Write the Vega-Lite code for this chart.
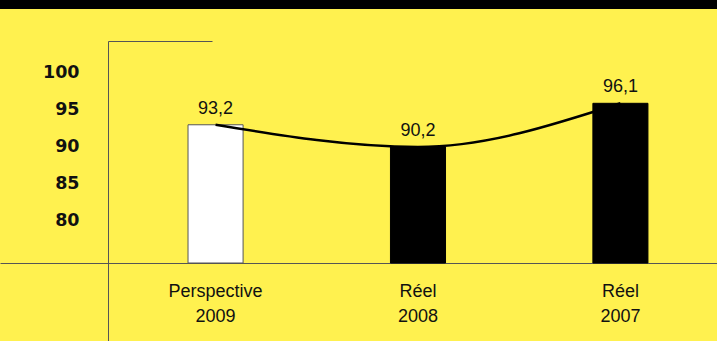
{
  "$schema": "https://vega.github.io/schema/vega-lite/v6.json",
  "width": 717,
  "height": 300,
  "autosize": {"type": "none"},
  "padding": {"left": 0, "top": 41, "right": 0, "bottom": 0},
  "background": "#fff14f",
  "config": {
    "view": {"stroke": null},
    "axis": {"labelOverlap": false},
    "locale": {"number": {"decimal": ",", "thousands": " ", "grouping": [3], "currency": ["", " €"]}}
  },
  "data": {
    "values": [
      {"categorie": "Perspective 2009", "type": "Perspective", "taux": 93.2},
      {"categorie": "Réel 2008", "type": "Réel", "taux": 90.2},
      {"categorie": "Réel 2007", "type": "Réel", "taux": 96.1}
    ]
  },
  "layer": [
    {
      "mark": {"type": "rect", "color": "black"},
      "encoding": {
        "y": {"datum": 111, "type": "quantitative"},
        "y2": {"datum": 108.84}
      }
    },
    {
      "mark": {"type": "bar", "strokeWidth": 1},
      "encoding": {
        "x": {
          "field": "categorie", "type": "nominal", "sort": null,
          "scale": {"paddingInner": 0.728, "paddingOuter": 0.635, "align": 0.7314},
          "axis": {
            "orient": "bottom", "offset": -78, "domainColor": "#555", "domainWidth": 1,
            "ticks": false, "labelAngle": 0, "labelFont": "Liberation Sans", "labelFontSize": 18,
            "labelColor": "#111", "labelPadding": 19, "labelLineHeight": 25,
            "labelExpr": "split(datum.label, ' ')", "title": null
          }
        },
        "y": {
          "field": "taux", "type": "quantitative",
          "scale": {"domain": [63.98, 104.52], "zero": false, "nice": false},
          "axis": {
            "orient": "left", "offset": -108,
            "values": [80, 85, 90, 95, 100, 104.52],
            "labelExpr": "datum.value > 104 ? '' : datum.label",
            "labelFont": "DejaVu Sans", "labelFontWeight": "bold", "labelFontSize": 17.5,
            "labelColor": "#111", "labelPadding": 29, "labelOffset": -1.5,
            "domainColor": "#555", "domainWidth": 1,
            "ticks": true, "tickColor": "#555", "tickWidth": 1,
            "tickSize": {"condition": {"test": "datum.value > 104", "value": -104}, "value": 0},
            "grid": false, "title": null
          }
        },
        "y2": {"datum": 74.52},
        "fill": {
          "field": "type", "type": "nominal",
          "scale": {"domain": ["Perspective", "Réel"], "range": ["white", "black"]},
          "legend": null
        },
        "stroke": {
          "field": "type", "type": "nominal",
          "scale": {"domain": ["Perspective", "Réel"], "range": ["#555", "black"]},
          "legend": null
        }
      }
    },
    {
      "mark": {"type": "line", "interpolate": "monotone", "color": "black", "strokeWidth": 2.5},
      "encoding": {
        "x": {"field": "categorie", "type": "nominal", "sort": null},
        "y": {"field": "taux", "type": "quantitative"}
      }
    },
    {
      "mark": {"type": "text", "font": "Liberation Sans", "fontSize": 18, "baseline": "alphabetic", "dy": -11, "color": "#111"},
      "encoding": {
        "x": {"field": "categorie", "type": "nominal", "sort": null},
        "y": {"field": "taux", "type": "quantitative"},
        "text": {"field": "taux", "type": "quantitative", "format": ".1f"}
      }
    },
    {
      "mark": {"type": "text", "color": "white", "font": "Liberation Sans", "fontWeight": "bold", "fontSize": 30, "align": "right", "baseline": "alphabetic", "dx": 55},
      "encoding": {
        "x": {"datum": "Réel 2007"},
        "y": {"datum": 111.2, "type": "quantitative"},
        "text": {"value": "(%)"}
      }
    }
  ]
}
